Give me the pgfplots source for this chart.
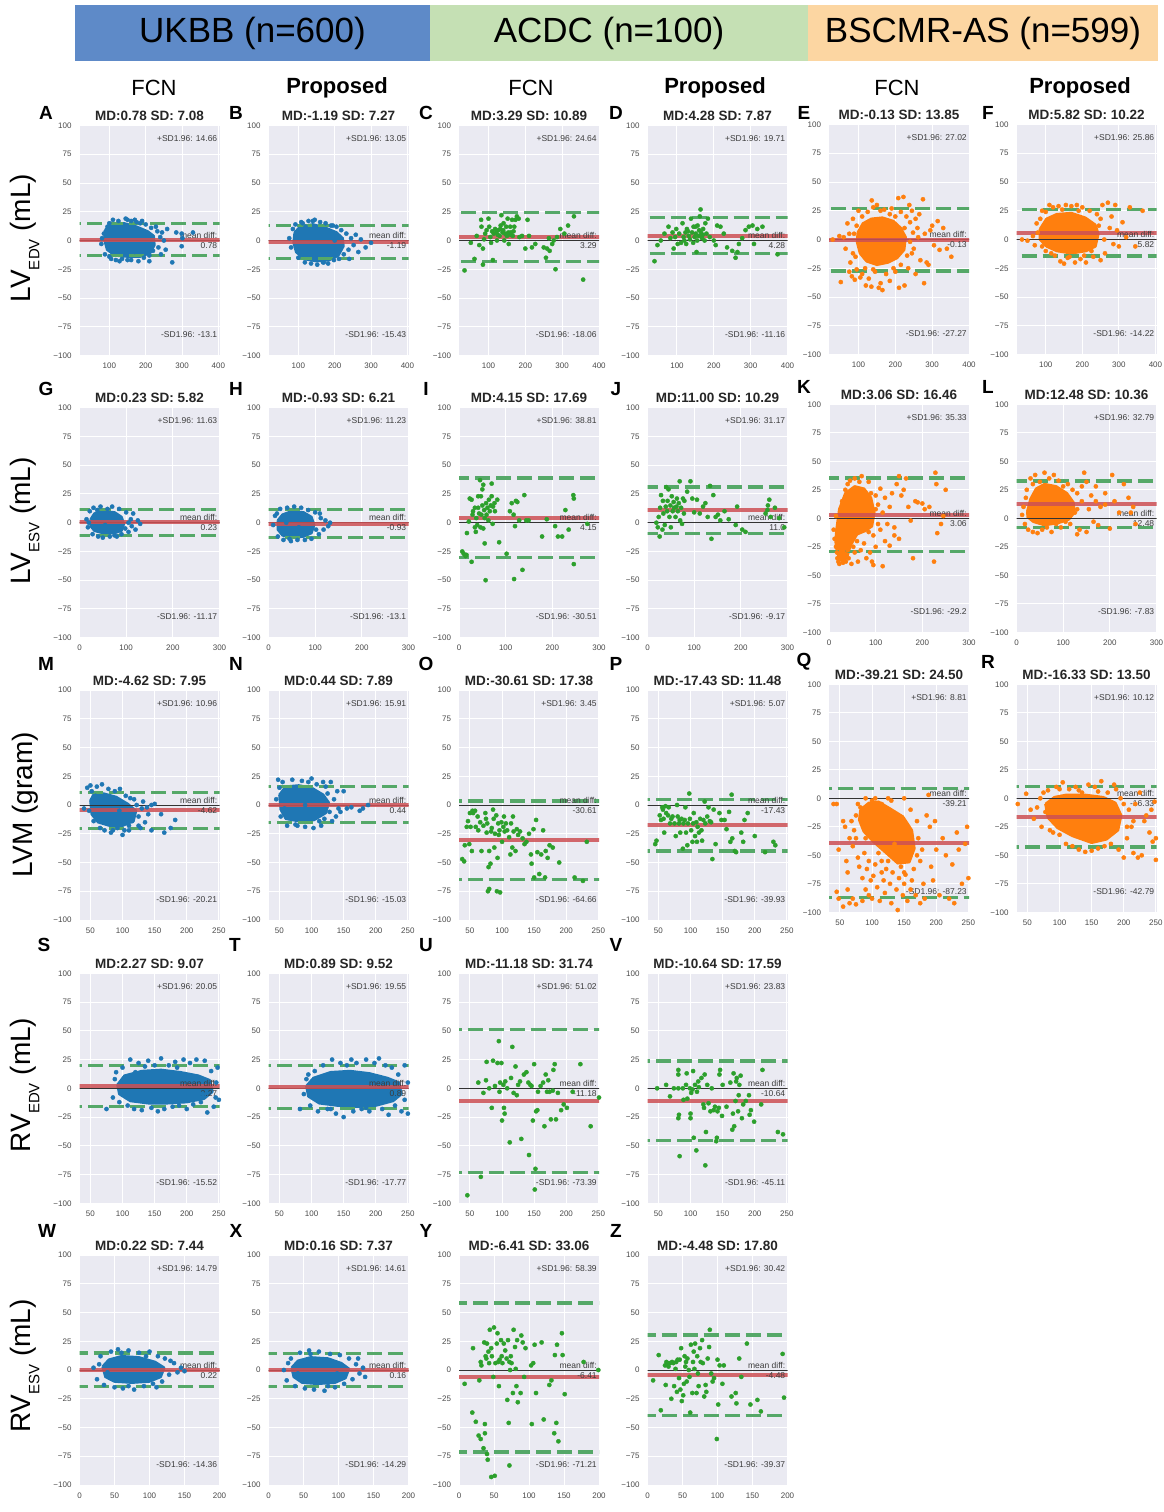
\documentclass[border=0pt]{standalone}
\usepackage{pgfplots}
\pgfplotsset{compat=1.18}
\usepackage{fontspec}
\setmainfont{Liberation Sans}
\definecolor{bgc}{RGB}{234,234,242}
\definecolor{tickc}{RGB}{75,75,75}
\definecolor{annc}{RGB}{60,60,60}
\definecolor{cb}{RGB}{31,119,180}
\definecolor{co}{RGB}{255,127,14}
\definecolor{cg}{RGB}{44,160,44}
\definecolor{cred}{RGB}{205,80,84}
\definecolor{cdash}{RGB}{85,168,104}
\definecolor{hblue}{RGB}{94,138,200}
\definecolor{hgreen}{RGB}{197,224,180}
\definecolor{horange}{RGB}{252,214,162}
\pgfplotsset{
 ba/.style={
  scale only axis, width=140pt, height=230pt, anchor=south west,
  ymin=-100, ymax=100,
  ytick={-100,-75,-50,-25,0,25,50,75,100},
  yticklabels={−100,−75,−50,−25,0,25,50,75,100},
  axis background/.style={fill=bgc},
  axis line style={draw=none},
  xmajorgrids, ymajorgrids,
  grid style={white, line width=1pt},
  major tick length=0pt,
  tick style={draw=none},
  /pgf/number format/assume math mode=true,
  tick label style={font=\fontsize{8}{9}\selectfont, text=tickc},
  xticklabel style={yshift=-4pt},
  yticklabel style={xshift=-4.5pt},
  title style={at={(0.5,1)}, anchor=south, yshift=-3.5pt, inner sep=2pt, font=\bfseries\fontsize{13.5}{15}\selectfont, text=black!85},
  clip=true,
 },
 pts/.style={only marks, mark=*, mark size=2.1pt, draw=#1, fill=#1, mark options={solid, draw=#1, fill=#1, line width=0.4pt}},
 core/.style={fill=#1, draw=#1, line width=2.5pt, line join=round, no marks},
 r1/.style={xmin=20, xmax=400, xtick={100,200,300,400}},
 r2/.style={xmin=0, xmax=300, xtick={0,100,200,300}},
 r3/.style={xmin=33, xmax=251, xtick={50,100,150,200,250}},
 r5/.style={xmin=0, xmax=200, xtick={0,50,100,150,200}},
}
\newcommand{\bal}[3]{%
  \addplot[black!80, line width=0.9pt] coordinates {(-1000,0) (1000,0)};
  \addplot[cred, opacity=0.85, line width=4pt] coordinates {(-1000,#1) (1000,#1)};
  \addplot[cdash, line width=3.3pt, dash pattern=on 15pt off 6pt] coordinates {(-1000,#2) (1000,#2)};
  \addplot[cdash, line width=3.3pt, dash pattern=on 15pt off 6pt] coordinates {(-1000,#3) (1000,#3)};
}
\newcommand{\ann}[3]{%
  \node[anchor=east, inner sep=0pt, font=\fontsize{8.5}{10}\selectfont, text=annc] at (rel axis cs:0.985,0.942) {+SD1.96: #1};
  \node[anchor=east, inner sep=0pt, align=right, font=\fontsize{8.5}{10}\selectfont, text=annc] at (rel axis cs:0.985,0.5) {mean diff:\\#2};
  \node[anchor=east, inner sep=0pt, font=\fontsize{8.5}{10}\selectfont, text=annc] at (rel axis cs:0.985,0.09) {-SD1.96: #3};
}
\begin{document}
\begin{tikzpicture}
\useasboundingbox (0,0) rectangle (1164pt,-1512pt);
\fill[white] (0,0) rectangle (1164pt,-1512pt);
% header bands
\fill[hblue] (75pt,-5pt) rectangle (430pt,-61pt);
\fill[hgreen] (430pt,-5pt) rectangle (808pt,-61pt);
\fill[horange] (808pt,-5pt) rectangle (1158pt,-61pt);
\node[font=\fontsize{35}{40}\selectfont] at (252.5pt,-33pt) {UKBB (n=600)};
\node[font=\fontsize{35}{40}\selectfont] at (609pt,-33pt) {ACDC (n=100)};
\node[font=\fontsize{35}{40}\selectfont] at (983pt,-33pt) {BSCMR-AS (n=599)};
\node[font=\fontsize{22}{24}\selectfont] at (154pt,-88pt) {FCN};
\node[font=\bfseries\fontsize{22}{24}\selectfont] at (337pt,-88pt) {Proposed};
\node[font=\fontsize{22}{24}\selectfont] at (531pt,-88pt) {FCN};
\node[font=\bfseries\fontsize{22}{24}\selectfont] at (715pt,-88pt) {Proposed};
\node[font=\fontsize{22}{24}\selectfont] at (897pt,-88pt) {FCN};
\node[font=\bfseries\fontsize{22}{24}\selectfont] at (1080pt,-88pt) {Proposed};
% row labels
\node[rotate=90, font=\fontsize{28}{30}\selectfont] at (25pt,-238pt) {LV\raisebox{-0.3em}{\fontsize{15}{16}\selectfont EDV} (mL)};
\node[rotate=90, font=\fontsize{28}{30}\selectfont] at (25pt,-521pt) {LV\raisebox{-0.3em}{\fontsize{15}{16}\selectfont ESV} (mL)};
\node[rotate=90, font=\fontsize{28}{30}\selectfont] at (25pt,-805pt) {LVM (gram)};
\node[rotate=90, font=\fontsize{28}{30}\selectfont] at (25pt,-1085pt) {RV\raisebox{-0.3em}{\fontsize{15}{16}\selectfont EDV} (mL)};
\node[rotate=90, font=\fontsize{28}{30}\selectfont] at (25pt,-1366pt) {RV\raisebox{-0.3em}{\fontsize{15}{16}\selectfont ESV} (mL)};
% panel letters
\begin{scope}[every node/.style={font=\bfseries\fontsize{19}{20}\selectfont}]
\node at (46pt,-113pt) {A}; \node at (236pt,-113pt) {B}; \node at (426pt,-113pt) {C};
\node at (616pt,-113pt) {D}; \node at (804pt,-113pt) {E}; \node at (988pt,-113pt) {F};
\node at (46pt,-389pt) {G}; \node at (236pt,-389pt) {H}; \node at (426pt,-389pt) {I};
\node at (616pt,-389pt) {J}; \node at (804pt,-387pt) {K}; \node at (988pt,-387pt) {L};
\node at (46pt,-664pt) {M}; \node at (236pt,-664pt) {N}; \node at (426pt,-664pt) {O};
\node at (616pt,-664pt) {P}; \node at (804pt,-662pt) {Q}; \node at (988pt,-662pt) {R};
\node at (44pt,-945pt) {S}; \node at (235pt,-945pt) {T}; \node at (426pt,-945pt) {U};
\node at (616pt,-945pt) {V};
\node at (47pt,-1231pt) {W}; \node at (236pt,-1231pt) {X}; \node at (426pt,-1231pt) {Y};
\node at (616pt,-1231pt) {Z};
\end{scope}

%%%%% ROW 1 : LV EDV
% A
\begin{axis}[ba, r1, xmin=18, xmax=403, at={(79.5pt,-355.5pt)}, title={MD:0.78 SD: 7.08}]
\addplot[core=cb] coordinates {(88,9)(105,14)(140,15)(175,12)(205,8)(222,4)(224,-4)(212,-11)(185,-14)(150,-14)(115,-13)(94,-8)(87,0)(88,9)};
\addplot[pts=cb] coordinates {(110,18)(145,19)(150,18)(160,17)(175,16)(125,17)(100,15)(95,12)(85,6)(80,2)(78,-3)(88,-12)(100,-14)(118,-17)(135,-16)(160,-17)(180,-18)(195,-15)(210,-13)(220,-9)(235,-6)(240,3)(232,8)(245,7)(259,10)(284,7)(299,6)(330,7)(299,-5)(301,2)(273,-19)(228,12)(200,14)(190,17)(170,18)(210,-18)(250,0)(255,-8)(242,-12)(120,10)(170,-10)(200,5)(140,-5)(105,-16)(128,-18)(150,-17)(185,15)(215,11)};
\bal{0.78}{14.66}{-13.1}
\ann{14.66}{0.78}{-13.1}
\end{axis}
% B
\begin{axis}[ba, r1, xmin=18, xmax=403, at={(268.5pt,-355.5pt)}, title={MD:-1.19 SD: 7.27}]
\addplot[core=cb] coordinates {(90,7)(105,12)(140,14)(175,11)(205,7)(222,2)(224,-5)(210,-13)(185,-17)(150,-18)(115,-16)(94,-10)(87,-2)(90,7)};
\addplot[pts=cb] coordinates {(75,2)(80,-6)(85,10)(92,14)(100,-15)(108,16)(118,-19)(128,17)(135,-20)(145,18)(152,-21)(160,16)(168,-19)(175,15)(182,-20)(190,13)(198,-17)(205,12)(212,-16)(218,9)(225,-12)(232,6)(238,-8)(245,2)(252,-4)(258,5)(265,-10)(272,1)(285,-6)(300,-2)(240,-16)(120,12)(160,-8)(200,0)(130,-5)(112,15)(140,17)(170,-19)(195,13)};
\bal{-1.19}{13.05}{-15.43}
\ann{13.05}{-1.19}{-15.43}
\end{axis}
% C
\begin{axis}[ba, r1, at={(459pt,-355.5pt)}, title={MD:3.29 SD: 10.89}]
\addplot[pts=cg] coordinates {(35,-26)(52,-2)(62,-16)(68,4)(75,-4)(80,18)(81,12)(85,-7)(85,-21)(88,1)(91,6)(95,9)(100,19)(102,12)(105,3)(107,-2)(112,-17)(114,6)(118,10)(121,7)(123,0)(127,9)(130,4)(132,10)(135,22)(138,7)(141,15)(143,0)(145,6)(148,12)(150,4)(152,19)(154,7)(155,-3)(159,12)(161,7)(164,18)(166,4)(170,12)(173,18)(177,21)(182,19)(184,3)(191,4)(200,-7)(206,18)(210,4)(218,-6)(227,-3)(250,-6)(256,-15)(259,-7)(264,2)(266,-9)(273,-3)(277,0)(282,-25)(286,3)(295,10)(306,6)(316,13)(332,21)(357,-34)(125,5)(140,9)(160,5)(168,8)(110,8)(133,13)};
\bal{3.29}{24.64}{-18.06}
\ann{24.64}{3.29}{-18.06}
\end{axis}
% D
\begin{axis}[ba, r1, at={(647.5pt,-355.5pt)}, title={MD:4.28 SD: 7.87}]
\addplot[pts=cg] coordinates {(39,-18)(47,-4)(56,0)(66,6)(77,12)(82,2)(88,7)(91,-7)(95,3)(98,10)(102,-3)(106,6)(111,-2)(115,15)(118,3)(123,7)(125,-3)(127,10)(132,4)(135,1)(138,19)(141,7)(144,-2)(145,12)(148,3)(151,6)(153,-10)(155,0)(156,13)(159,4)(162,21)(164,27)(165,7)(168,2)(171,10)(175,0)(177,15)(180,6)(184,19)(189,3)(200,0)(205,-4)(209,13)(218,12)(227,6)(236,-6)(250,-9)(259,-15)(264,-10)(268,-3)(277,2)(286,9)(295,12)(305,13)(309,-3)(318,10)(332,12)(373,-12)(130,8)(150,12)(160,9)(170,5)(120,0)};
\bal{4.28}{19.71}{-11.16}
\ann{19.71}{4.28}{-11.16}
\end{axis}
% E
\begin{axis}[ba, r1, at={(829pt,-354.5pt)}, title={MD:-0.13 SD: 13.85}]
\addplot[core=co] coordinates {(98,6)(112,14)(135,18)(165,19)(195,16)(215,10)(228,2)(224,-9)(205,-16)(180,-20)(150,-22)(122,-19)(104,-12)(96,-2)(98,6)};
\addplot[pts=co] coordinates {(30,0)(48,3)(52,-37)(65,-8)(70,14)(75,-28)(78,-20)(82,-32)(85,18)(90,-35)(95,-26)(100,25)(105,-33)(110,-30)(120,-40)(128,-34)(136,34)(135,-41)(140,28)(145,-28)(150,30)(155,-42)(160,-38)(165,-44)(170,26)(175,-30)(185,-36)(190,27)(200,-28)(208,36)(210,-42)(215,24)(222,37)(225,-40)(230,20)(235,-25)(240,15)(245,25)(250,-8)(255,-30)(260,10)(265,22)(268,-18)(275,35)(278,-38)(280,5)(285,-20)(290,-22)(295,8)(300,12)(305,-5)(315,16)(320,-9)(330,10)(340,-8)(352,-15)(262,2)(245,-12)(255,18)(238,30)(225,10)(212,-5)(200,5)(85,-12)(95,12)(60,2)(75,5)(88,5)(92,-15)(110,20)(125,24)(160,25)(185,22)(200,20)(215,-22)(195,-25)(140,-26)(118,-25)(232,-14)(240,-2)(248,6)};
\bal{-0.13}{27.02}{-27.27}
\ann{27.02}{-0.13}{-27.27}
\end{axis}
% F
\begin{axis}[ba, r1, xmax=403, at={(1016.5pt,-354.5pt)}, title={MD:5.82 SD: 10.22}]
\addplot[core=co] coordinates {(84,9)(102,18)(130,22)(170,23)(208,19)(235,13)(244,5)(236,-6)(210,-10)(170,-12)(130,-10)(102,-6)(84,0)(84,9)};
\addplot[pts=co] coordinates {(35,0)(50,-1)(65,3)(70,-5)(75,14)(90,25)(100,-10)(110,30)(120,28)(125,-14)(135,29)(140,-19)(150,-21)(155,30)(160,-16)(170,29)(180,-20)(185,30)(195,-17)(200,28)(210,-20)(220,25)(230,-15)(240,22)(250,-18)(255,30)(262,-12)(270,32)(275,10)(280,20)(285,-4)(290,30)(295,8)(300,-6)(310,15)(320,2)(330,28)(345,-6)(365,25)(260,0)(245,12)(225,-10)(90,-6)(85,18)(78,6)(100,24)(145,26)(190,25)(115,-12)(165,-15)(205,-14)(250,18)};
\bal{5.82}{25.86}{-14.22}
\ann{25.86}{5.82}{-14.22}
\end{axis}

%%%%% ROW 2 : LV ESV
% G
\begin{axis}[ba, r2, at={(79.5pt,-637.7pt)}, title={MD:0.23 SD: 5.82}]
\addplot[core=cb] coordinates {(24,3)(32,8)(50,10)(75,9)(90,5)(95,-1)(90,-7)(75,-9)(50,-9)(32,-7)(24,-3)(24,3)};
\addplot[pts=cb] coordinates {(15,3)(18,-4)(22,10)(28,-10)(30,13)(40,-12)(45,14)(50,-13)(60,12)(65,-12)(70,14)(75,-11)(85,12)(90,-10)(100,9)(105,-8)(110,3)(112,-3)(115,8)(120,-6)(125,2)(130,-1)(105,0)(20,0)(45,-6)(85,5)(60,-5)(70,6)(35,5)(55,-2)(38,11)(80,-12)(98,-5)};
\bal{0.23}{11.63}{-11.17}
\ann{11.63}{0.23}{-11.17}
\end{axis}
% H
\begin{axis}[ba, r2, at={(268.5pt,-637.7pt)}, title={MD:-0.93 SD: 6.21}]
\addplot[core=cb] coordinates {(20,2)(30,7)(50,10)(75,9)(92,5)(98,-2)(92,-9)(75,-12)(50,-13)(30,-11)(20,-6)(20,2)};
\addplot[pts=cb] coordinates {(10,-2)(14,6)(20,-12)(25,12)(32,-15)(40,13)(48,-16)(55,14)(62,-15)(70,13)(78,-15)(85,11)(92,-14)(100,9)(108,-10)(112,4)(118,-6)(122,2)(128,-3)(132,0)(110,8)(38,0)(65,-4)(88,3)(18,8)(45,-14)(102,-6)};
\bal{-0.93}{11.23}{-13.1}
\ann{11.23}{-0.93}{-13.1}
\end{axis}
% I
\begin{axis}[ba, r2, at={(459pt,-637.7pt)}, title={MD:4.15 SD: 17.69}]
\addplot[pts=cg] coordinates {(7,-25)(10,-27)(14,-29)(17,-9)(16,-28)(21,1)(23,21)(27,20)(27,-34)(29,7)(30,10)(34,-4)(34,13)(36,-8)(37,4)(39,-2)(41,23)(41,13)(43,8)(45,37)(46,-4)(47,23)(48,7)(50,15)(50,29)(52,33)(52,-5)(54,11)(55,4)(55,-18)(57,-50)(58,17)(59,7)(61,13)(63,2)(64,20)(66,10)(68,15)(70,23)(70,34)(72,-1)(73,14)(76,17)(77,10)(82,20)(86,-17)(102,-27)(109,10)(113,17)(117,7)(118,-49)(120,-3)(122,19)(125,18)(129,2)(136,-41)(140,24)(144,2)(149,2)(178,-12)(188,3)(206,-3)(212,-12)(221,-12)(228,11)(235,-6)(246,-36)(245,24)(246,21)(275,-1)};
\bal{4.15}{38.81}{-30.51}
\ann{38.81}{4.15}{-30.51}
\end{axis}
% J
\begin{axis}[ba, r2, at={(647.5pt,-637.7pt)}, title={MD:11.00 SD: 10.29}]
\addplot[pts=cg] coordinates {(19,0)(22,-4)(24,5)(26,-12)(27,13)(29,24)(32,-6)(33,19)(34,8)(37,-2)(39,14)(40,31)(42,10)(43,19)(45,29)(47,5)(49,15)(50,-4)(52,23)(54,10)(56,18)(57,13)(60,5)(62,14)(63,21)(65,10)(67,17)(69,36)(70,2)(72,13)(74,-1)(76,21)(78,8)(79,19)(85,27)(92,36)(96,21)(100,9)(106,20)(112,8)(119,14)(124,17)(129,5)(134,32)(137,-14)(141,24)(146,5)(151,7)(156,2)(165,10)(174,3)(189,-2)(192,14)(203,-6)(210,-8)(253,8)(258,15)(261,20)(264,5)(273,13)(282,4)(257,11)(293,-4)};
\bal{11.0}{31.17}{-9.17}
\ann{31.17}{11.0}{-9.17}
\end{axis}
% K
\begin{axis}[ba, r2, height=228pt, at={(829pt,-632.3pt)}, title={MD:3.06 SD: 16.46}]
\addplot[core=co] coordinates {(16,-10)(22,8)(35,22)(55,28)(75,26)(90,18)(97,5)(92,-7)(78,-11)(60,-14)(46,-24)(38,-35)(26,-37)(17,-30)(14,-20)(16,-10)};
\addplot[pts=co] coordinates {(10,-10)(12,-18)(15,-25)(17,-30)(18,-35)(20,-38)(22,-40)(24,-33)(26,-27)(28,-36)(30,-39)(32,-25)(34,-31)(36,-38)(38,-22)(40,-28)(42,-35)(45,-18)(48,-40)(52,-25)(55,-30)(60,-20)(62,-38)(68,-28)(75,-22)(80,-35)(88,-30)(92,-38)(95,-41)(100,-25)(115,-42)(20,-5)(15,2)(25,8)(28,15)(35,25)(45,33)(55,35)(70,37)(85,32)(90,22)(100,20)(105,12)(110,26)(115,5)(120,18)(125,-5)(130,10)(135,22)(140,-15)(145,30)(150,37)(155,20)(160,25)(165,35)(170,10)(175,-2)(180,-35)(185,15)(190,14)(200,13)(205,8)(215,10)(225,-38)(228,40)(230,30)(232,-13)(240,-5)(245,2)(250,25)(110,-10)(120,-20)(130,-24)(140,-8)(150,-18)(95,-15)(105,-5)(40,30)(65,32)(100,8)(85,-12)};
\bal{3.06}{35.33}{-29.2}
\ann{35.33}{3.06}{-29.2}
\end{axis}
% L
\begin{axis}[ba, r2, height=228pt, at={(1016.5pt,-632.3pt)}, title={MD:12.48 SD: 10.36}]
\addplot[core=co] coordinates {(23,6)(30,17)(42,26)(60,30)(85,28)(108,22)(122,14)(124,5)(112,-1)(90,-4)(60,-6)(36,-3)(24,1)(23,6)};
\addplot[pts=co] coordinates {(12,3)(15,10)(18,-5)(20,18)(25,-10)(30,35)(35,-12)(40,38)(45,-13)(50,32)(55,-10)(60,40)(65,-8)(70,35)(75,-12)(80,38)(85,-5)(90,33)(95,-8)(100,28)(105,-3)(110,30)(115,-5)(120,25)(125,5)(130,22)(135,-10)(140,15)(145,40)(150,32)(155,8)(160,20)(165,-3)(170,15)(175,-6)(180,10)(190,12)(200,-9)(205,38)(210,15)(220,5)(230,30)(240,18)(245,5)(250,10)(255,-5)(150,-12)(130,-14)(190,22)(170,28)(22,25)(35,30)(130,8)(140,28)};
\bal{12.48}{32.79}{-7.83}
\ann{32.79}{12.48}{-7.83}
\end{axis}

%%%%% ROW 3 : LVM
% M
\begin{axis}[ba, r3, at={(79.5pt,-920pt)}, title={MD:-4.62 SD: 7.95}]
\addplot[core=cb] coordinates {(50,4)(56,10)(70,10)(90,7)(108,1)(121,-5)(117,-14)(100,-18)(80,-18)(62,-15)(52,-8)(50,4)};
\addplot[pts=cb] coordinates {(45,15)(48,-5)(50,17)(55,-14)(60,16)(65,-20)(68,18)(72,-22)(78,14)(82,-24)(88,12)(92,-20)(96,14)(100,-26)(103,-22)(105,8)(110,-18)(112,6)(115,-14)(118,5)(122,0)(125,-10)(130,-3)(135,-15)(140,-8)(145,0)(150,1)(145,-22)(160,-8)(165,-24)(175,-20)(182,-13)(128,-20)(132,3)(138,-2)(40,-3)(58,8)(75,-10)(95,-5)(52,12)(85,-22)(110,-22)(125,-18)};
\bal{-4.62}{10.96}{-20.21}
\ann{10.96}{-4.62}{-20.21}
\end{axis}
% N
\begin{axis}[ba, r3, at={(268.5pt,-920pt)}, title={MD:0.44 SD: 7.89}]
\addplot[core=cb] coordinates {(50,9)(60,16)(80,17)(100,15)(118,9)(127,2)(122,-7)(104,-13)(80,-14)(60,-12)(52,-4)(50,9)};
\addplot[pts=cb] coordinates {(48,22)(52,-10)(55,20)(62,-18)(70,22)(75,-17)(85,21)(90,-19)(95,20)(100,23)(103,-20)(108,18)(112,-14)(118,20)(120,-12)(125,10)(128,-6)(130,20)(135,5)(138,-10)(142,-3)(145,-6)(150,12)(155,-3)(162,-2)(175,-5)(180,-3)(188,0)(140,12)(132,-14)(115,-18)(45,5)(58,-3)(90,0)(50,15)(78,-18)(122,16)};
\bal{0.44}{15.91}{-15.03}
\ann{15.91}{0.44}{-15.03}
\end{axis}
% O
\begin{axis}[ba, r3, at={(459pt,-920pt)}, title={MD:-30.61 SD: 17.38}]
\addplot[pts=cg] coordinates {(38,-47)(41,-49)(42,-35)(45,-19)(47,-14)(49,-34)(50,-7)(51,-19)(53,-40)(54,-5)(55,-7)(58,-5)(59,-19)(62,-10)(63,-22)(66,-15)(68,-40)(71,-18)(74,-7)(75,-12)(76,-24)(77,-16)(78,-75)(79,-54)(80,-73)(80,-40)(82,-51)(83,-23)(84,-20)(86,-4)(87,-12)(88,-37)(89,-25)(91,-9)(92,-75)(93,-46)(94,-16)(95,-26)(96,-22)(97,-76)(99,-15)(100,-32)(102,-19)(103,-10)(104,-23)(106,-16)(108,-22)(111,-28)(113,-43)(114,-16)(116,-37)(117,-10)(118,-23)(121,-40)(123,-21)(125,-26)(128,-23)(132,-29)(135,-34)(138,-32)(142,-25)(145,-43)(146,-51)(149,-21)(150,-63)(153,-13)(155,-41)(158,-60)(161,-43)(164,-22)(167,-63)(168,-40)(171,-46)(174,-35)(179,-37)(189,-50)(213,-63)(226,-66)(232,-32)};
\bal{-30.61}{3.45}{-64.66}
\ann{3.45}{-30.61}{-64.66}
\end{axis}
% P
\begin{axis}[ba, r3, at={(647.5pt,-920pt)}, title={MD:-17.43 SD: 11.48}]
\addplot[pts=cg] coordinates {(45,-34)(47,-31)(52,-9)(54,-13)(56,-2)(57,-4)(58,-12)(59,-24)(61,-1)(62,-7)(65,-9)(66,-2)(68,-16)(70,-12)(72,-10)(75,-16)(77,-27)(79,0)(80,-10)(82,-16)(83,-13)(84,-24)(86,-12)(88,-38)(89,-16)(91,-13)(92,-2)(93,-24)(95,-35)(96,-16)(98,10)(99,-12)(101,-22)(103,-32)(104,-16)(105,-7)(107,-27)(109,-15)(110,-32)(111,-19)(113,-24)(115,-12)(117,-22)(118,-31)(120,-13)(122,3)(123,-16)(126,-10)(128,-2)(130,-14)(132,-15)(134,-47)(136,-4)(139,-34)(145,-7)(148,-13)(153,-13)(156,-21)(160,-6)(162,-32)(164,9)(165,-29)(169,-40)(171,-41)(179,-24)(182,-32)(184,-13)(189,-7)(200,-27)(216,-41)(229,-32)(232,-35)};
\bal{-17.43}{5.07}{-39.93}
\ann{5.07}{-17.43}{-39.93}
\end{axis}
% Q
\begin{axis}[ba, r3, height=228pt, at={(829pt,-912.3pt)}, title={MD:-39.21 SD: 24.50}]
\addplot[core=co] coordinates {(82,-10)(95,-4)(110,-3)(128,-9)(148,-16)(162,-28)(166,-44)(158,-56)(140,-57)(122,-48)(102,-38)(87,-29)(80,-19)(82,-10)};
\addplot[pts=co] coordinates {(40,-5)(45,-5)(48,-45)(55,-20)(58,-25)(60,-55)(62,-65)(65,-35)(68,-20)(70,-42)(72,-28)(75,-15)(78,-52)(80,-60)(82,-8)(85,-70)(88,-48)(90,-80)(92,-62)(95,-55)(98,-72)(100,-88)(102,-68)(105,-58)(108,-78)(110,-48)(112,-90)(115,-65)(118,-72)(120,-83)(122,-62)(125,-55)(128,-75)(130,-92)(132,-65)(135,-52)(138,-80)(140,-98)(142,-70)(145,-60)(148,-85)(150,-75)(152,-67)(155,-90)(158,-52)(160,-80)(162,-72)(165,-62)(168,-85)(170,-50)(172,-35)(175,-92)(178,-45)(180,-75)(182,-88)(185,-15)(188,3)(190,-25)(192,-60)(195,-72)(198,-20)(200,-45)(205,-85)(210,-35)(215,-50)(220,-88)(225,-58)(228,-92)(232,-30)(235,-45)(240,-75)(245,-40)(248,-25)(250,-70)(45,-82)(48,-88)(55,-95)(65,-92)(70,-88)(75,-93)(85,-90)(95,-85)(100,-2)(105,0)(115,-5)(125,0)(150,0)(160,-10)(140,-20)(90,-35)(160,-30)(135,-40)(62,-80)(75,-35)(78,-5)(90,0)(130,-2)(170,-20)(175,-55)(150,-65)(115,-55)};
\bal{-39.21}{8.81}{-87.23}
\ann{8.81}{-39.21}{-87.23}
\end{axis}
% R
\begin{axis}[ba, r3, height=228pt, at={(1016.5pt,-912.3pt)}, title={MD:-16.33 SD: 13.50}]
\addplot[core=co] coordinates {(78,-5)(92,1)(110,3)(140,3)(168,1)(187,-4)(196,-15)(191,-28)(173,-36)(150,-39)(120,-33)(97,-26)(82,-17)(78,-5)};
\addplot[pts=co] coordinates {(35,-5)(48,4)(55,-10)(60,-18)(65,-8)(70,0)(72,-25)(78,-12)(82,7)(85,-28)(90,-30)(95,10)(100,-32)(105,14)(110,-40)(115,8)(120,-42)(125,10)(130,-45)(135,5)(140,-47)(145,12)(150,-46)(155,10)(160,-44)(165,15)(170,-42)(175,5)(180,-40)(185,12)(188,8)(192,-45)(195,0)(200,-52)(205,-35)(208,-10)(212,-25)(215,-48)(218,-5)(222,-52)(225,5)(228,-50)(232,-20)(235,-15)(240,-30)(243,-10)(245,-38)(248,-3)(250,-35)(250,-54)(200,-5)(215,-20)(75,5)(100,8)(130,7)(160,6)(205,-25)};
\bal{-16.33}{10.12}{-42.79}
\ann{10.12}{-16.33}{-42.79}
\end{axis}

%%%%% ROW 4 : RV EDV
% S
\begin{axis}[ba, r3, at={(79.5pt,-1203.3pt)}, title={MD:2.27 SD: 9.07}]
\addplot[core=cb] coordinates {(92,3)(103,11)(130,15)(160,16)(190,14)(218,11)(236,7)(240,-3)(227,-9)(200,-12)(170,-13)(140,-13)(112,-11)(95,-5)(92,3)};
\addplot[pts=cb] coordinates {(75,-18)(85,-8)(88,8)(95,-12)(100,18)(108,-15)(112,25)(118,-18)(125,22)(130,-19)(140,24)(145,-17)(150,20)(155,-20)(160,26)(165,-18)(172,20)(178,-16)(182,23)(188,-15)(195,25)(200,-18)(205,22)(210,-14)(215,25)(222,-12)(228,24)(232,-21)(238,15)(242,-16)(246,5)(248,18)(250,-10)(120,14)(135,-10)(170,10)(210,8)(225,-5)(90,14)(245,-8)(135,19)(185,18)};
\bal{2.27}{20.05}{-15.52}
\ann{20.05}{2.27}{-15.52}
\end{axis}
% T
\begin{axis}[ba, r3, at={(268.5pt,-1203.3pt)}, title={MD:0.89 SD: 9.52}]
\addplot[core=cb] coordinates {(92,2)(103,9)(130,14)(160,15)(190,13)(218,9)(236,5)(240,-5)(227,-11)(200,-15)(170,-16)(140,-15)(112,-13)(95,-7)(92,2)};
\addplot[pts=cb] coordinates {(82,-18)(88,-5)(92,8)(98,-15)(105,15)(110,-20)(118,20)(125,-18)(132,25)(138,-22)(145,22)(150,-25)(155,20)(162,25)(165,-20)(170,22)(178,-18)(185,25)(190,-20)(198,22)(205,26)(210,-18)(215,20)(220,-23)(225,18)(230,-15)(235,12)(240,-20)(245,20)(250,-22)(250,5)(120,10)(140,-10)(175,8)(205,-8)(95,12)(245,-10)(130,-18)(185,-17)};
\bal{0.89}{19.55}{-17.77}
\ann{19.55}{0.89}{-17.77}
\end{axis}
% U
\begin{axis}[ba, r3, at={(459pt,-1203.3pt)}, title={MD:-11.18 SD: 31.74}]
\addplot[pts=cg] coordinates {(32,-37)(46,-93)(63,5)(67,-77)(71,-4)(75,7)(76,23)(80,0)(84,-17)(86,24)(89,2)(93,22)(95,41)(96,-3)(97,5)(99,22)(100,-28)(102,3)(103,-17)(104,-22)(105,6)(108,0)(112,-47)(114,9)(116,36)(118,-4)(121,19)(123,-6)(125,3)(128,6)(130,-44)(134,12)(138,14)(141,5)(142,-58)(144,3)(146,2)(148,-28)(150,21)(151,-88)(152,-70)(153,-20)(155,-19)(156,-3)(160,2)(164,5)(166,-33)(168,12)(170,-3)(172,7)(174,-3)(176,-27)(179,-2)(180,16)(182,21)(184,-27)(187,-4)(192,-19)(196,-14)(201,-17)(210,-3)(222,21)(238,-33)(251,-8)};
\bal{-11.18}{51.02}{-73.39}
\ann{51.02}{-11.18}{-73.39}
\end{axis}
% V
\begin{axis}[ba, r3, at={(647.5pt,-1203.3pt)}, title={MD:-10.64 SD: 17.59}]
\addplot[pts=cg] coordinates {(48,0)(62,3)(68,-7)(74,0)(81,0)(81,12)(81,16)(81,-26)(82,-23)(83,-59)(88,0)(89,-10)(93,3)(94,13)(95,-9)(99,0)(100,-22)(100,-26)(101,-4)(103,-1)(104,15)(105,-43)(107,3)(109,-54)(110,-3)(112,6)(113,1)(117,9)(120,-14)(121,-17)(122,12)(123,-67)(124,-38)(126,3)(128,-13)(131,-20)(133,0)(136,-19)(138,-16)(140,-46)(141,-43)(142,-20)(144,-17)(145,12)(146,16)(149,-24)(150,3)(156,-16)(162,5)(165,-36)(166,-22)(167,13)(168,-33)(170,-11)(171,6)(172,9)(174,-20)(175,-6)(176,3)(178,11)(180,-26)(182,-14)(186,-11)(191,-6)(192,-23)(194,-19)(199,-29)(210,-14)(212,16)(236,-38)(244,-40)};
\bal{-10.64}{23.83}{-45.11}
\ann{23.83}{-10.64}{-45.11}
\end{axis}

%%%%% ROW 5 : RV ESV
% W
\begin{axis}[ba, r5, at={(79.5pt,-1485pt)}, title={MD:0.22 SD: 7.44}]
\addplot[core=cb] coordinates {(33,3)(42,9)(60,12)(85,11)(108,7)(121,2)(116,-6)(100,-10)(75,-11)(50,-10)(37,-6)(33,3)};
\addplot[pts=cb] coordinates {(20,2)(25,-8)(30,12)(35,-13)(45,16)(50,-15)(55,18)(62,-16)(70,17)(78,-17)(85,15)(92,-14)(100,16)(105,-12)(112,12)(118,-10)(122,10)(128,-4)(135,6)(140,-2)(145,2)(150,-1)(130,8)(110,-15)(40,-2)(65,5)(90,-4)(28,5)(60,15)(95,12)(70,-14)};
\bal{0.22}{14.79}{-14.36}
\ann{14.79}{0.22}{-14.36}
\end{axis}
% X
\begin{axis}[ba, r5, at={(268.5pt,-1485pt)}, title={MD:0.16 SD: 7.37}]
\addplot[core=cb] coordinates {(33,2)(42,8)(60,11)(85,10)(104,6)(115,1)(110,-7)(95,-11)(70,-12)(48,-11)(36,-6)(33,2)};
\addplot[pts=cb] coordinates {(22,0)(26,-9)(32,10)(38,-14)(45,15)(52,-16)(58,17)(65,-17)(72,16)(80,-18)(88,14)(95,-15)(102,13)(108,-12)(115,10)(120,-8)(125,5)(130,-3)(135,2)(138,-6)(128,10)(42,-3)(75,4)(98,-3)(28,6)(60,14)(85,-14)};
\bal{0.16}{14.61}{-14.29}
\ann{14.61}{0.16}{-14.29}
\end{axis}
% Y
\begin{axis}[ba, r5, at={(459pt,-1485pt)}, title={MD:-6.41 SD: 33.06}]
\addplot[pts=cg] coordinates {(8,-12)(20,19)(19,-37)(24,-45)(28,-57)(29,-9)(31,-60)(31,7)(32,4)(35,-68)(36,24)(37,-55)(37,-47)(38,12)(39,10)(40,23)(40,-73)(41,-78)(42,16)(43,6)(44,35)(46,19)(46,-93)(47,12)(49,-6)(50,37)(51,-92)(52,6)(54,23)(55,32)(56,7)(57,-14)(58,9)(60,26)(61,12)(62,6)(64,23)(66,17)(68,10)(69,-26)(70,26)(71,-46)(72,7)(72,-83)(73,0)(74,12)(75,6)(77,-20)(78,35)(80,20)(81,1)(82,-14)(83,26)(84,-28)(88,-20)(89,30)(91,24)(93,-6)(95,19)(103,4)(106,6)(104,-47)(108,22)(110,-20)(118,24)(121,-43)(129,-13)(132,-9)(136,-55)(137,13)(139,-46)(140,22)(142,-62)(147,32)(148,13)(151,-21)(178,7)(199,0)};
\bal{-6.41}{58.39}{-71.21}
\ann{58.39}{-6.41}{-71.21}
\end{axis}
% Z
\begin{axis}[ba, r5, at={(647.5pt,-1485pt)}, title={MD:-4.48 SD: 17.80}]
\addplot[pts=cg] coordinates {(8,-9)(16,13)(19,-35)(25,4)(26,-13)(27,7)(29,6)(30,3)(32,6)(34,-25)(35,7)(37,6)(38,-14)(40,1)(41,7)(42,-19)(43,9)(45,-7)(46,9)(47,-17)(48,19)(49,-27)(51,-22)(52,-12)(53,12)(54,3)(55,7)(56,-10)(57,10)(59,0)(60,-6)(61,-37)(62,22)(64,-20)(65,7)(66,16)(67,1)(68,23)(70,-20)(71,12)(72,-3)(73,-14)(75,19)(76,7)(78,26)(79,6)(81,-23)(83,-13)(84,-19)(86,10)(88,20)(89,35)(91,-3)(93,-10)(95,-7)(99,-60)(100,9)(101,-30)(103,4)(107,-12)(109,4)(120,-23)(126,-20)(127,-29)(131,10)(134,-6)(142,23)(147,-30)(157,-26)(162,-36)(193,14)(195,-24)};
\bal{-4.48}{30.42}{-39.37}
\ann{30.42}{-4.48}{-39.37}
\end{axis}
\end{tikzpicture}
\end{document}
